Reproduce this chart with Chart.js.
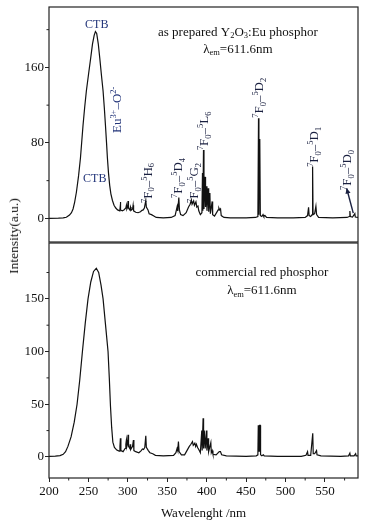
<!DOCTYPE html>
<html><head><meta charset="utf-8">
<script src="https://cdn.jsdelivr.net/npm/chart.js@4"></script>
<style>
html,body{margin:0;padding:0;background:#fff;}
#wrap{position:relative;width:368px;height:524px;overflow:hidden;background:#fff;}
#top{position:absolute;left:0;top:0;width:368px;height:243px;}
#bot{position:absolute;left:0;top:242px;width:368px;height:282px;}
#ytitle{position:absolute;left:14px;top:236px;transform:translate(-50%,-50%) rotate(-90deg);font:13.5px "Liberation Serif",serif;white-space:nowrap;color:#111;}
</style></head>
<body><div id="wrap"><canvas id="top" width="368" height="243"></canvas><canvas id="bot" width="368" height="282"></canvas><div id="ytitle">Intensity(a.u.)</div></div>
<script>
// ---- data (wavelength nm, intensity a.u.) ----
const topSpectrum = [
[200,0],[212,0.2],[218,0.5],[222,1.2],[226,3.5],[228.5,6],[230.5,10],[232.5,17],[234.8,28],[237.5,45],[239.9,64],[241.5,81],[243.2,99],[245.3,118],[247.4,135],[250.2,153],[252.9,170],[255.2,185],[257.3,194],[258.9,198],[260.5,196],[262.5,185],[264.4,170],[266.5,152],[268.6,135],[270.2,117],[271.6,99],[273,80],[274.1,64],[275.5,48],[277,35],[278.5,26],[280.5,19],[282.5,14],[284.7,11],[287,9],[289.8,8],[290.3,12],[290.6,17.5],[290.9,9],[293,8],[295,9],[297.5,11],[298.2,14],[298.8,10],[299.8,12],[300.3,18.5],[300.8,11],[302.5,9],[303.3,12],[304,8.5],[306,10],[306.7,14],[307.3,8],[310,6.5],[313,6],[316,7],[318,8.5],[319.5,9],[321,11],[322.8,19],[323.5,12],[325.6,9],[327,5],[330,4],[333,2.5],[336,1],[345,0.5],[355,1],[360,3],[362.6,12.6],[363.3,8],[364.7,22],[365.5,9],[367,4],[370,3],[374,6],[377,12],[379,15],[380.6,19.5],[381.5,15],[383.5,18.5],[384.5,14],[386.4,17.5],[387.5,12],[389,13],[390,8],[392,4],[394,6],[394.7,48],[395.2,8],[396,72.6],[396.6,10],[398,44],[398.6,12],[399.8,34],[400.4,8],[402,32],[402.6,7],[404.1,27],[404.7,5],[407,18],[407.6,4],[410,2.5],[414.6,9],[415.5,11],[416.5,9],[417.6,10],[418.5,3],[422,1],[430,0.5],[450,0.5],[462,1],[465,2],[465.8,106],[466.3,4],[466.8,84],[467.2,20],[467.6,84],[468.1,3],[470,2],[471.5,4],[472.5,2],[474,3],[476,1],[490,0.5],[510,0.5],[525,1],[528,3],[529.3,11.7],[530,3],[532,2],[533.8,4],[534.4,55],[535,4],[537,5],[538.6,12.8],[539.5,4],[542,1],[560,0.5],[578,1],[581,2],[581.7,7.8],[582.3,2],[585,1.5],[588,5],[588.6,1.5],[592,1]
];
const bottomSpectrum = [
[200,0.5],[208,0.7],[214,1.2],[218,2.5],[221,5],[224,10],[228,19],[232,33],[235.6,50],[239,73],[242.4,100],[246,127],[249.5,150],[253,166],[256.5,176],[260,179],[263,175],[266,163],[268.6,150],[271.5,127],[274.9,100],[276.5,75],[278,48],[279.5,28],[281,14],[283,9],[286,6.5],[289,5.5],[290,10],[290.6,17.7],[291.2,6],[294,5],[296.5,8],[297.5,12],[298.2,16],[298.8,10],[299.8,13],[300.3,21],[300.9,10],[302.5,8],[303,12],[303.6,7],[306,10],[307.1,16],[307.7,6],[310,5],[314,4],[317,6],[318.5,7.6],[320,7],[321.5,9],[322.8,20],[323.5,9],[326,6],[328,4],[331.6,3],[335,1.5],[345,1],[358,1.5],[361,4],[362.5,8],[363.3,6],[364.2,14.5],[365,5],[365.8,5],[368,2],[372,2],[375,6],[378,10],[380,12],[382,14.5],[383,11],[385,13],[386,10],[387,12],[388.5,9],[390,7],[392,4],[393.8,25],[394.3,6],[395.5,36.7],[396.1,8],[397,25],[397.6,25],[398.2,8],[399.7,25],[400.3,6],[401.9,17.7],[402.5,5],[405.3,13.6],[405.9,4],[407,6],[408,2.5],[412,2],[416,5],[417.5,5],[419,2],[425,1],[450,0.5],[463,1],[465,2],[465.5,30],[466,5],[466.5,30],[467,5],[467.5,30],[468,30],[468.4,2],[470,1],[472,2],[473,1],[490,0.5],[520,0.5],[526,1.5],[528,5],[528.6,1.5],[532,1.5],[534.6,22.5],[535.2,3],[537,3],[539.4,6],[540,2],[545,1],[570,0.5],[580,1],[581.7,3.5],[582.3,1],[587,1],[589,3],[589.6,1],[592,1]
];
const xTicks = [200,250,300,350,400,450,500,550];
const xMinorTicks = [225,275,325,375,425,475,525,575];
const topYTicks = [0,80,160];
const topYMinorTicks = [40,120,200];
const bottomYTicks = [0,50,100,150];
const bottomYMinorTicks = [25,75,125,175];
const xRange = [200,592];
const topYRange = [-25,224];
const bottomYRange = [-20,203];

// annotations in data units
const topLabels = [
  {text:'CTB', x:260.6, y:206.4, size:12, rot:0, color:'#23357a'},
  {text:'CTB', x:258, y:42.8, size:12, rot:0, color:'#23357a'},
  {text:'Eu^{3+}–O^{2-}', x:286, y:115, size:13, rot:-1, color:'#23357a'},
  {text:'^7F_0–^5H_6', x:324.7, y:37.5, size:13, rot:-1, color:'#1a2040'},
  {text:'^7F_0–^5D_4', x:363.4, y:42.8, size:13, rot:-1, color:'#1a2040'},
  {text:'^7F_0–^5G_2', x:383.7, y:37.5, size:13, rot:-1, color:'#1a2040'},
  {text:'^7F_0–^5L_6', x:396.4, y:92.8, size:13, rot:-1, color:'#1a2040'},
  {text:'^7F_0–^5D_2', x:466.2, y:127.8, size:13, rot:-1, color:'#1a2040'},
  {text:'^7F_0–^5D_1', x:536, y:75.8, size:13, rot:-1, color:'#1a2040'},
  {text:'^7F_0–^5D_0', x:578, y:51.3, size:13, rot:-1, color:'#1a2040'},
  {text:'as prepared Y_2O_3:Eu phosphor', x:439.6, y:198, size:13, rot:0, color:'#111'},
  {text:'λ_{em}=611.6nm', x:439.6, y:180, size:13, rot:0, color:'#111'}
];
const topArrows = [ {from:[586,5.6], to:[577.6,32]} ];
const bottomLabels = [
  {text:'commercial red phosphor', x:470, y:175.5, size:13, rot:0, color:'#111'},
  {text:'λ_{em}=611.6nm', x:470, y:158.4, size:13, rot:0, color:'#111'}
];

const FAMILY = '"Liberation Serif", "DejaVu Serif", serif';

function parseRich(s){
  const out=[]; let i=0, buf='';
  while(i<s.length){
    const c=s[i];
    if(c==='^'||c==='_'){
      if(buf){out.push({t:buf,m:0});buf='';}
      const m=c==='^'?1:-1; i++;
      let t;
      if(s[i]==='{'){const j=s.indexOf('}',i); t=s.slice(i+1,j); i=j+1;}
      else {t=s[i]; i++;}
      out.push({t,m});
    } else {buf+=c; i++;}
  }
  if(buf) out.push({t:buf,m:0});
  return out;
}
function drawRich(ctx, s, x, y, size, rot, color){
  const segs=parseRich(s);
  ctx.save();
  ctx.translate(x,y);
  if(rot) ctx.rotate(rot*Math.PI/2);
  ctx.fillStyle=color; ctx.textBaseline='alphabetic'; ctx.textAlign='left';
  let w=0;
  segs.forEach(g=>{g.sz=g.m?size*0.65:size; ctx.font=g.sz+'px '+FAMILY; g.w=ctx.measureText(g.t).width; w+=g.w;});
  let cx=-w/2; const base=size*0.33;
  segs.forEach(g=>{
    ctx.font=g.sz+'px '+FAMILY;
    const dy=g.m===1?-size*0.38:(g.m===-1?size*0.2:0);
    ctx.fillText(g.t,cx,base+dy); cx+=g.w;
  });
  ctx.restore();
}

function makePlugin(labels, arrows, yMinor){
  return {
    id:'decor',
    afterDraw(chart){
      const ctx=chart.ctx, a=chart.chartArea, xs=chart.scales.x, ys=chart.scales.y;
      ctx.save();
      // frame
      ctx.strokeStyle='#222'; ctx.lineWidth=1.2;
      ctx.strokeRect(a.left, a.top, a.right-a.left, a.bottom-a.top);
      // minor ticks
      ctx.lineWidth=1; ctx.beginPath();
      yMinor.forEach(v=>{ if(v>ys.min&&v<ys.max){const p=ys.getPixelForValue(v); ctx.moveTo(a.left,p); ctx.lineTo(a.left-2.5,p);} });
      if(xs.options.display){
        xMinorTicks.forEach(v=>{ if(v>xs.min&&v<xs.max){const p=xs.getPixelForValue(v); ctx.moveTo(p,a.bottom); ctx.lineTo(p,a.bottom+2.5);} });
      }
      ctx.stroke();
      // labels
      labels.forEach(l=>drawRich(ctx,l.text,xs.getPixelForValue(l.x),ys.getPixelForValue(l.y),l.size,l.rot,l.color));
      // arrows
      arrows.forEach(ar=>{
        const x1=xs.getPixelForValue(ar.from[0]), y1=ys.getPixelForValue(ar.from[1]);
        const x2=xs.getPixelForValue(ar.to[0]), y2=ys.getPixelForValue(ar.to[1]);
        ctx.strokeStyle='#1a2040'; ctx.fillStyle='#1a2040'; ctx.lineWidth=1.4;
        ctx.beginPath(); ctx.moveTo(x1,y1); ctx.lineTo(x2,y2); ctx.stroke();
        const ang=Math.atan2(y2-y1,x2-x1), L=6, W=0.45;
        ctx.beginPath(); ctx.moveTo(x2,y2);
        ctx.lineTo(x2-L*Math.cos(ang-W), y2-L*Math.sin(ang-W));
        ctx.lineTo(x2-L*Math.cos(ang+W), y2-L*Math.sin(ang+W));
        ctx.closePath(); ctx.fill();
      });
      ctx.restore();
    }
  };
}

const tickFont = {family: FAMILY, size: 13};
function yScale(range, ticks){
  return {
    type:'linear', min:range[0], max:range[1],
    border:{display:false},
    grid:{display:true, drawOnChartArea:false, drawTicks:true, tickLength:4, tickColor:'#222', lineWidth:1},
    ticks:{font:tickFont, color:'#111', padding:1},
    afterBuildTicks(s){ s.ticks = ticks.map(v=>({value:v})); },
    afterFit(s){ s.width=49; s.paddingTop=0; s.paddingBottom=0; }
  };
}
function dataset(spec){
  return {data: spec.map(p=>({x:p[0], y:p[1]})), borderColor:'#111', borderWidth:1.2, pointRadius:0, tension:0, fill:false};
}

Chart.defaults.font.family = FAMILY;

new Chart(document.getElementById('top'), {
  type:'line',
  data:{datasets:[dataset(topSpectrum)]},
  options:{
    responsive:false, animation:false, devicePixelRatio:1,
    layout:{padding:{top:7,bottom:1,left:0,right:10}},
    plugins:{legend:{display:false}, tooltip:{enabled:false}},
    scales:{
      x:{type:'linear', min:xRange[0], max:xRange[1], display:false},
      y:yScale(topYRange, topYTicks)
    }
  },
  plugins:[makePlugin(topLabels, topArrows, topYMinorTicks)]
});

new Chart(document.getElementById('bot'), {
  type:'line',
  data:{datasets:[dataset(bottomSpectrum)]},
  options:{
    responsive:false, animation:false, devicePixelRatio:1,
    layout:{padding:{top:1,bottom:0,left:0,right:10}},
    plugins:{legend:{display:false}, tooltip:{enabled:false}},
    scales:{
      x:{type:'linear', min:xRange[0], max:xRange[1],
        border:{display:false},
        grid:{display:true, drawOnChartArea:false, drawTicks:true, tickLength:4, tickColor:'#222', lineWidth:1},
        ticks:{font:tickFont, color:'#111', padding:2, maxRotation:0},
        afterBuildTicks(s){ s.ticks = xTicks.map(v=>({value:v})); },
        afterFit(s){ s.height=46; s.paddingLeft=0; s.paddingRight=0; },
        title:{display:true, text:'Wavelenght /nm', font:{family:FAMILY, size:13}, color:'#111', padding:{top:0,bottom:3}}
      },
      y:yScale(bottomYRange, bottomYTicks)
    }
  },
  plugins:[makePlugin(bottomLabels, [], bottomYMinorTicks)]
});
</script>
</body></html>
